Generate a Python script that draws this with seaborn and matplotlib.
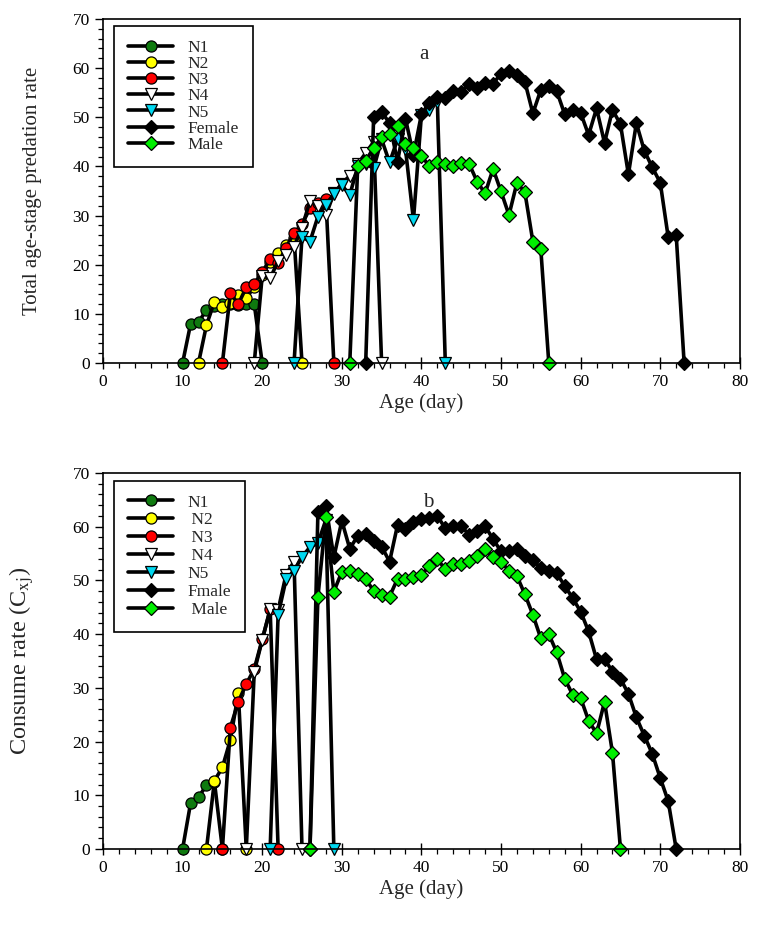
import numpy as np
import matplotlib
matplotlib.use('Agg')
import matplotlib.pyplot as plt
import seaborn as sns

# ── data: panel a (total age-stage predation rate) ───────────────
n1_a_start, n1_a = 10, [0, 7.9, 8.3, 10.8, 11.5, 12.0, 12.0, 11.8, 12.1, 12.0, 0]
n2_a_start, n2_a = 12, [0, 7.7, 12.5, 11.3, 12.3, 13.8, 13.2, 15.5, 18.0, 20.5,
                        22.4, 24.1, 25.5, 0]
n3_a_start, n3_a = 15, [0, 14.2, 12.0, 15.4, 16.1, 18.5, 21.1, 20.3, 23.5, 26.5,
                        28.2, 31.5, 32.6, 33.4, 0]
n4_a_start, n4_a = 19, [0, 17.7, 17.2, 20.8, 22.0, 23.7, 27.5, 33.0, 32.0, 30.1,
                        34.5, 36.5, 38.1, 40.5, 42.7, 45.0, 0]
n5_a_start, n5_a = 24, [0, 25.7, 24.7, 29.8, 32.2, 34.4, 36.2, 34.2, 40.0, 40.5,
                        39.6, 45.5, 40.8, 45.5, 43.5, 29.1, 50.5, 51.5, 53.2, 0]
fem_a_start, fem_a = 33, [0, 50.1, 51.1, 48.8, 41.0, 49.7, 42.3, 50.6, 53.0, 54.2,
                          54.0, 55.4, 55.2, 56.8, 55.9, 57.0, 56.8, 58.9, 59.5,
                          58.7, 57.2, 50.8, 55.6, 56.4, 55.3, 50.6, 51.5, 50.9,
                          46.4, 51.8, 44.8, 51.5, 48.6, 38.4, 48.8, 43.2, 39.8,
                          36.7, 25.6, 26.1, 0]
male_a_start, male_a = 31, [0, 40.1, 41.1, 43.8, 45.9, 46.6, 48.2, 44.6, 43.7,
                            42.1, 40.1, 41.0, 40.5, 40.1, 40.6, 40.5, 36.9, 34.5,
                            39.5, 34.9, 30.1, 36.7, 34.7, 24.7, 23.1, 0]

# ── data: panel b (consume rate) ──────────────────────────────────
n1_b_start, n1_b = 10, [0, 8.5, 9.6, 11.9, 12.5, 0]
n2_b_start, n2_b = 13, [0, 12.7, 15.2, 20.3, 29.0, 0]
n3_b_start, n3_b = 15, [0, 22.6, 27.4, 30.7, 33.5, 39.0, 44.6, 0]
n4_b_start, n4_b = 18, [0, 33.0, 38.9, 44.6, 44.5, 51.1, 53.5, 0]
n5_b_start, n5_b = 21, [0, 43.6, 50.2, 51.8, 54.4, 56.2, 56.9, 61.3, 0]
fem_b_start, fem_b = 26, [0, 62.8, 63.9, 54.3, 61.1, 55.9, 58.3, 58.6, 57.3, 56.3,
                          53.5, 60.3, 59.5, 60.9, 61.4, 61.6, 62.0, 59.7, 60.1,
                          60.1, 58.5, 59.2, 60.1, 57.7, 55.4, 55.5, 55.9, 54.6,
                          53.8, 52.3, 51.8, 51.3, 49.0, 46.7, 44.2, 40.5, 35.3,
                          35.4, 33.0, 31.7, 28.9, 24.5, 21.1, 17.7, 13.2, 8.9, 0]
male_b_start, male_b = 26, [0, 46.9, 61.9, 47.9, 51.6, 51.8, 51.2, 50.2, 48.1,
                            47.2, 47.0, 50.3, 50.2, 50.7, 51.1, 52.6, 53.9, 52.1,
                            53.1, 53.0, 53.7, 54.6, 55.9, 54.3, 53.5, 51.8, 50.8,
                            47.4, 43.6, 39.2, 40.0, 36.6, 31.7, 28.7, 28.1, 23.9,
                            21.5, 27.4, 17.9, 0]

labels_a = ['N1', 'N2', 'N3', 'N4', 'N5', 'Female', 'Male']
labels_b = ['N1', ' N2', ' N3', ' N4', 'N5', 'Fmale', ' Male']

# ── style ─────────────────────────────────────────────────────────
sns.set_theme(style='ticks')
plt.rcParams['font.family'] = ['Liberation Serif', 'DejaVu Serif']
plt.rcParams['mathtext.fontset'] = 'stix'

styles = [
    ('o', '#0f7a0f'),   # N1
    ('o', '#ffff00'),   # N2
    ('o', '#ff0000'),   # N3
    ('v', '#ffffff'),   # N4
    ('v', '#00d8f0'),   # N5
    ('D', '#000000'),   # Female
    ('D', '#00ee00'),   # Male
]
msizes = [8, 8, 8, 8.5, 8.5, 7, 7]


def draw_panel(ax, series, labels, letter, letter_xy, ylabel, ylabel_size,
               ypad, lspace, lfont):
    for (start, vals), (mk, fc), ms, lab in zip(series, styles, msizes, labels):
        days = np.arange(start, start + len(vals))
        sns.lineplot(x=days, y=vals, ax=ax, color='black', linewidth=2.6,
                     marker=mk, markersize=ms, markerfacecolor=fc,
                     markeredgecolor='black', markeredgewidth=0.9,
                     label=lab, clip_on=False)
    ax.set_xlim(0, 80)
    ax.set_ylim(0, 70)
    ax.set_xticks(np.arange(0, 81, 10))
    ax.set_xticks(np.arange(0, 81, 2), minor=True)
    ax.set_yticks(np.arange(0, 71, 10))
    ax.set_yticks(np.arange(0, 71, 2), minor=True)
    ax.tick_params(axis='both', which='major', labelsize=12.5, length=6,
                   width=1, color='black', labelcolor='black')
    ax.tick_params(axis='x', which='major', direction='inout', length=9)
    ax.tick_params(axis='both', which='minor', length=3.5, width=0.9,
                   color='black', direction='out')
    for sp in ax.spines.values():
        sp.set_visible(True)
        sp.set_color('black')
        sp.set_linewidth(1.2)
    ax.set_xlabel('Age (day)', fontsize=15, labelpad=2)
    ax.set_ylabel(ylabel, fontsize=ylabel_size, labelpad=ypad)
    ax.text(letter_xy[0], letter_xy[1], letter, fontsize=15, ha='center',
            va='center')
    leg = ax.legend(loc='upper left', bbox_to_anchor=(0.018, 0.98),
                    fontsize=lfont, frameon=True, fancybox=False,
                    edgecolor='black', framealpha=1, handlelength=2.6,
                    labelspacing=lspace, borderpad=0.8, handletextpad=0.8,
                    borderaxespad=0)
    leg.get_frame().set_linewidth(1.2)


fig = plt.figure(figsize=(7.6, 9.26), dpi=100)
ax_a = fig.add_axes([0.1355, 0.608, 0.838, 0.3715])
ax_b = fig.add_axes([0.1355, 0.0832, 0.838, 0.406])

series_a = [(n1_a_start, n1_a), (n2_a_start, n2_a), (n3_a_start, n3_a),
            (n4_a_start, n4_a), (n5_a_start, n5_a), (fem_a_start, fem_a),
            (male_a_start, male_a)]
series_b = [(n1_b_start, n1_b), (n2_b_start, n2_b), (n3_b_start, n3_b),
            (n4_b_start, n4_b), (n5_b_start, n5_b), (fem_b_start, fem_b),
            (male_b_start, male_b)]

draw_panel(ax_a, series_a, labels_a, 'a', (40.3, 62.7),
           'Total age-stage predation rate', 15, 22, 0.0, 12.5)
draw_panel(ax_b, series_b, labels_b, 'b', (40.8, 64.6),
           r'Consume rate (C$_{\mathrm{xj}}$)', 17.5, 26, 0.1, 12.5)

fig.savefig('out.png', dpi=100)
